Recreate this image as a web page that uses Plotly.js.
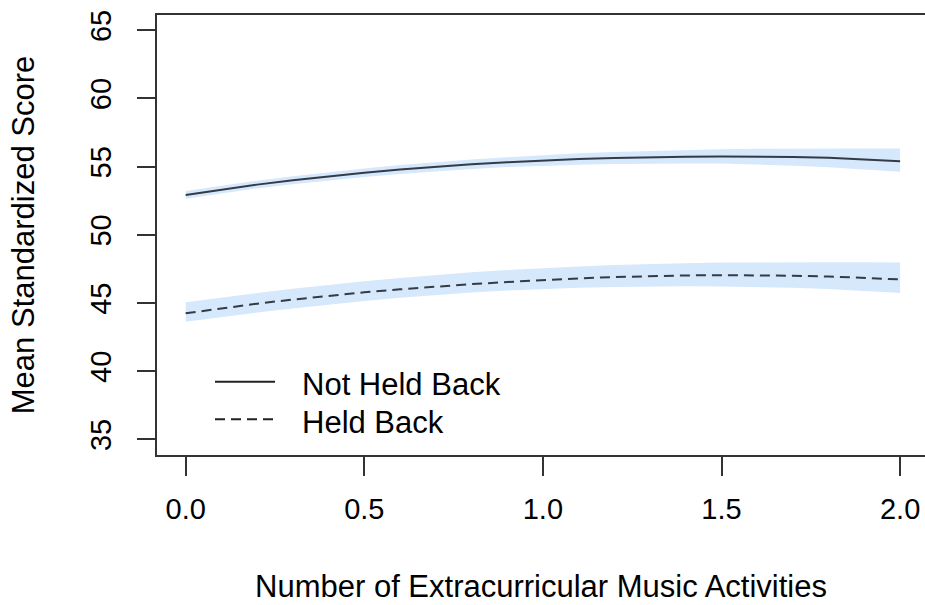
<!DOCTYPE html>
<html>
<head>
<meta charset="utf-8">
<script src="https://cdn.plot.ly/plotly-3.0.1.min.js"></script>
<style>html,body{margin:0;padding:0;background:#fff;}#chart{width:925px;height:605px;}</style>
</head>
<body>
<div id="chart"></div>
<script>
// Number of extracurricular music activities
const activities = [0.0, 0.1, 0.2, 0.3, 0.4, 0.5, 0.6, 0.7, 0.8, 0.9, 1.0, 1.1, 1.2, 1.3, 1.4, 1.5, 1.6, 1.7, 1.8, 1.9, 2.0];

// Not Held Back
const notHeldMean  = [52.92, 53.32, 53.68, 54.00, 54.29, 54.55, 54.79, 54.99, 55.17, 55.32, 55.45, 55.55, 55.63, 55.69, 55.73, 55.75, 55.74, 55.71, 55.65, 55.55, 55.40];
const notHeldUpper = [53.22, 53.61, 53.97, 54.30, 54.60, 54.87, 55.11, 55.33, 55.52, 55.69, 55.85, 55.98, 56.08, 56.16, 56.23, 56.28, 56.31, 56.33, 56.34, 56.33, 56.32];
const notHeldLower = [52.64, 53.04, 53.40, 53.71, 53.99, 54.24, 54.46, 54.66, 54.83, 54.97, 55.07, 55.14, 55.19, 55.22, 55.23, 55.22, 55.17, 55.07, 54.95, 54.80, 54.62];

// Held Back
const heldMean  = [44.24, 44.62, 44.95, 45.25, 45.53, 45.78, 46.00, 46.20, 46.38, 46.54, 46.68, 46.80, 46.90, 46.97, 47.02, 47.04, 47.03, 47.00, 46.94, 46.85, 46.73];
const heldUpper = [45.05, 45.40, 45.73, 46.04, 46.33, 46.60, 46.84, 47.06, 47.25, 47.42, 47.56, 47.68, 47.78, 47.86, 47.92, 47.96, 47.98, 47.99, 47.99, 47.98, 47.97];
const heldLower = [43.62, 43.97, 44.30, 44.60, 44.88, 45.14, 45.38, 45.58, 45.76, 45.91, 46.03, 46.12, 46.18, 46.21, 46.22, 46.21, 46.18, 46.12, 46.02, 45.90, 45.74];

const xTicks = [0, 0.5, 1, 1.5, 2];
const xTickLabels = ["0.0", "0.5", "1.0", "1.5", "2.0"];
const yTicks = [35, 40, 45, 50, 55, 60, 65];
const yTickLabels = ["35", "40", "45", "50", "55", "60", "65"];

const legendLabels = ["Not Held Back", "Held Back"];

const bandColor = "#d5e8fc";
const lineColor = "#343b45";
const FONT = "'Liberation Sans', Arial, sans-serif";

function band(upper, lower) {
  return [
    {x: activities, y: upper, type: "scatter", mode: "lines", line: {width: 0, color: bandColor}, hoverinfo: "skip", showlegend: false},
    {x: activities, y: lower, type: "scatter", mode: "lines", line: {width: 0, color: bandColor}, fill: "tonexty", fillcolor: bandColor, hoverinfo: "skip", showlegend: false}
  ];
}

const traces = [
  ...band(notHeldUpper, notHeldLower),
  ...band(heldUpper, heldLower),
  {x: activities, y: notHeldMean, type: "scatter", mode: "lines", name: legendLabels[0], line: {color: lineColor, width: 2}, showlegend: false},
  {x: activities, y: heldMean, type: "scatter", mode: "lines", name: legendLabels[1], line: {color: lineColor, width: 2, dash: "10px,6px"}, showlegend: false}
];

// plot area pixel helpers for legend placement
const L = 157, R = 925, T = 15, B = 455;
const px = v => (v - L) / (R - L);
const py = v => (B - v) / (B - T);

const layout = {
  width: 925, height: 605,
  margin: {l: L, r: 925 - R, t: T, b: 605 - B, pad: 0},
  paper_bgcolor: "#ffffff", plot_bgcolor: "#ffffff",
  font: {family: FONT, size: 31, color: "#000"},
  showlegend: false,
  xaxis: {
    range: [-0.0803, 2.0697],
    tickvals: xTicks, ticktext: xTickLabels,
    ticks: "outside", ticklen: 19, tickwidth: 2, tickcolor: "#333",
    showline: true, linecolor: "#333", linewidth: 2, mirror: true,
    showgrid: false, zeroline: false,
    tickfont: {family: FONT, size: 29, color: "#000"},
    ticklabelstandoff: 8,
    title: {text: "Number of Extracurricular Music Activities", font: {family: FONT, size: 31, color: "#000"}, standoff: 52},
    automargin: false
  },
  yaxis: {
    range: [33.85, 66.12],
    tickvals: yTicks, ticktext: yTickLabels,
    ticks: "outside", ticklen: 18, tickwidth: 2, tickcolor: "#333",
    showline: true, linecolor: "#333", linewidth: 2, mirror: false,
    showgrid: false, zeroline: false,
    tickangle: -90,
    tickfont: {family: FONT, size: 29, color: "#000"},
    ticklabelstandoff: 14,
    title: {text: "Mean Standardized Score", font: {family: FONT, size: 31, color: "#000"}, standoff: 42},
    automargin: false
  },
  shapes: [
    {type: "line", xref: "paper", yref: "paper", x0: px(215), x1: px(275), y0: py(381.7), y1: py(381.7), line: {color: "#222", width: 2}},
    {type: "line", xref: "paper", yref: "paper", x0: px(215), x1: px(275), y0: py(419.3), y1: py(419.3), line: {color: "#222", width: 2, dash: "10px,6px"}}
  ],
  annotations: [
    {xref: "paper", yref: "paper", x: px(300), y: py(384), xanchor: "left", yanchor: "middle", text: legendLabels[0], showarrow: false, font: {family: FONT, size: 31, color: "#000"}},
    {xref: "paper", yref: "paper", x: px(300), y: py(422), xanchor: "left", yanchor: "middle", text: legendLabels[1], showarrow: false, font: {family: FONT, size: 31, color: "#000"}}
  ]
};

Plotly.newPlot("chart", traces, layout, {staticPlot: true, displayModeBar: false});
</script>
</body>
</html>
